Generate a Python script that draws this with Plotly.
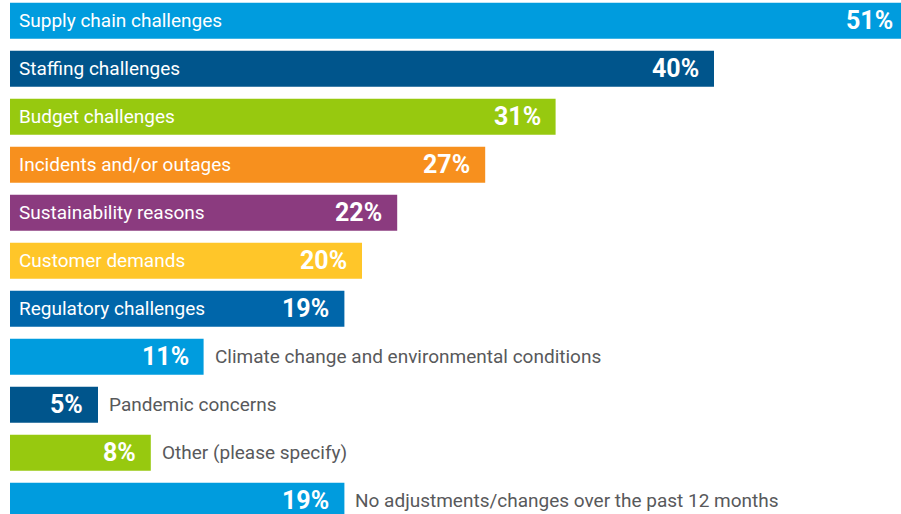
import plotly.graph_objects as go

categories = [
    "Supply chain challenges",
    "Staffing challenges",
    "Budget challenges",
    "Incidents and/or outages",
    "Sustainability reasons",
    "Customer demands",
    "Regulatory challenges",
    "Climate change and environmental conditions",
    "Pandemic concerns",
    "Other (please specify)",
    "No adjustments/changes over the past 12 months",
]
values = [51, 40, 31, 27, 22, 20, 19, 11, 5, 8, 19]
bar_colors = [
    "#009CDE", "#00558C", "#97C90F", "#F7901E", "#8B3B7F", "#FFC629",
    "#0066AA", "#009CDE", "#00558C", "#97C90F", "#009CDE",
]
# label inside the bar (True) or to the right of it (False)
label_inside = [True] * 7 + [False] * 4

FONT = "Roboto"
PX_PER_PCT = 17.6
PX_PER_ROW = 48

fig = go.Figure()
fig.add_trace(go.Bar(
    y=list(range(len(categories))),
    x=values,
    orientation="h",
    marker=dict(color=bar_colors, line=dict(width=0)),
    width=0.75,
    hoverinfo="skip",
))

annotations = []
for i, (cat, v, inside) in enumerate(zip(categories, values, label_inside)):
    # value label, bold white at the right end of the bar
    annotations.append(dict(
        x=v, y=i, xref="x", yref="y",
        text=f"<b>{v}%</b>",
        showarrow=False, xanchor="right", yanchor="middle",
        xshift=-13, yshift=0,
        font=dict(family=FONT, size=25, color="white"),
    ))
    if inside:
        annotations.append(dict(
            x=0, y=i, xref="x", yref="y",
            text=cat, showarrow=False, xanchor="left", yanchor="middle",
            xshift=7,
            font=dict(family=FONT, size=19, color="white"),
        ))
    else:
        annotations.append(dict(
            x=v, y=i, xref="x", yref="y",
            text=cat, showarrow=False, xanchor="left", yanchor="middle",
            xshift=9,
            font=dict(family=FONT, size=19, color="#58595B"),
        ))

# the original graphic is cropped on the right and bottom edges, so the
# figure is a bit larger than the window and the page hides the overflow
y_top = -0.432
fig_w = 925
fig_h = 525
fig.update_layout(
    width=fig_w, height=fig_h,
    margin=dict(l=10, r=0, t=0, b=0),
    plot_bgcolor="white", paper_bgcolor="white",
    showlegend=False,
    annotations=annotations,
    xaxis=dict(range=[0, (fig_w - 10) / PX_PER_PCT], visible=False, fixedrange=True),
    yaxis=dict(range=[y_top + fig_h / PX_PER_ROW, y_top], visible=False, fixedrange=True),
)

fig.write_html(
    "out.html",
    config={"displayModeBar": False},
    post_script="document.body.style.margin='0';document.body.style.overflow='hidden';",
)
